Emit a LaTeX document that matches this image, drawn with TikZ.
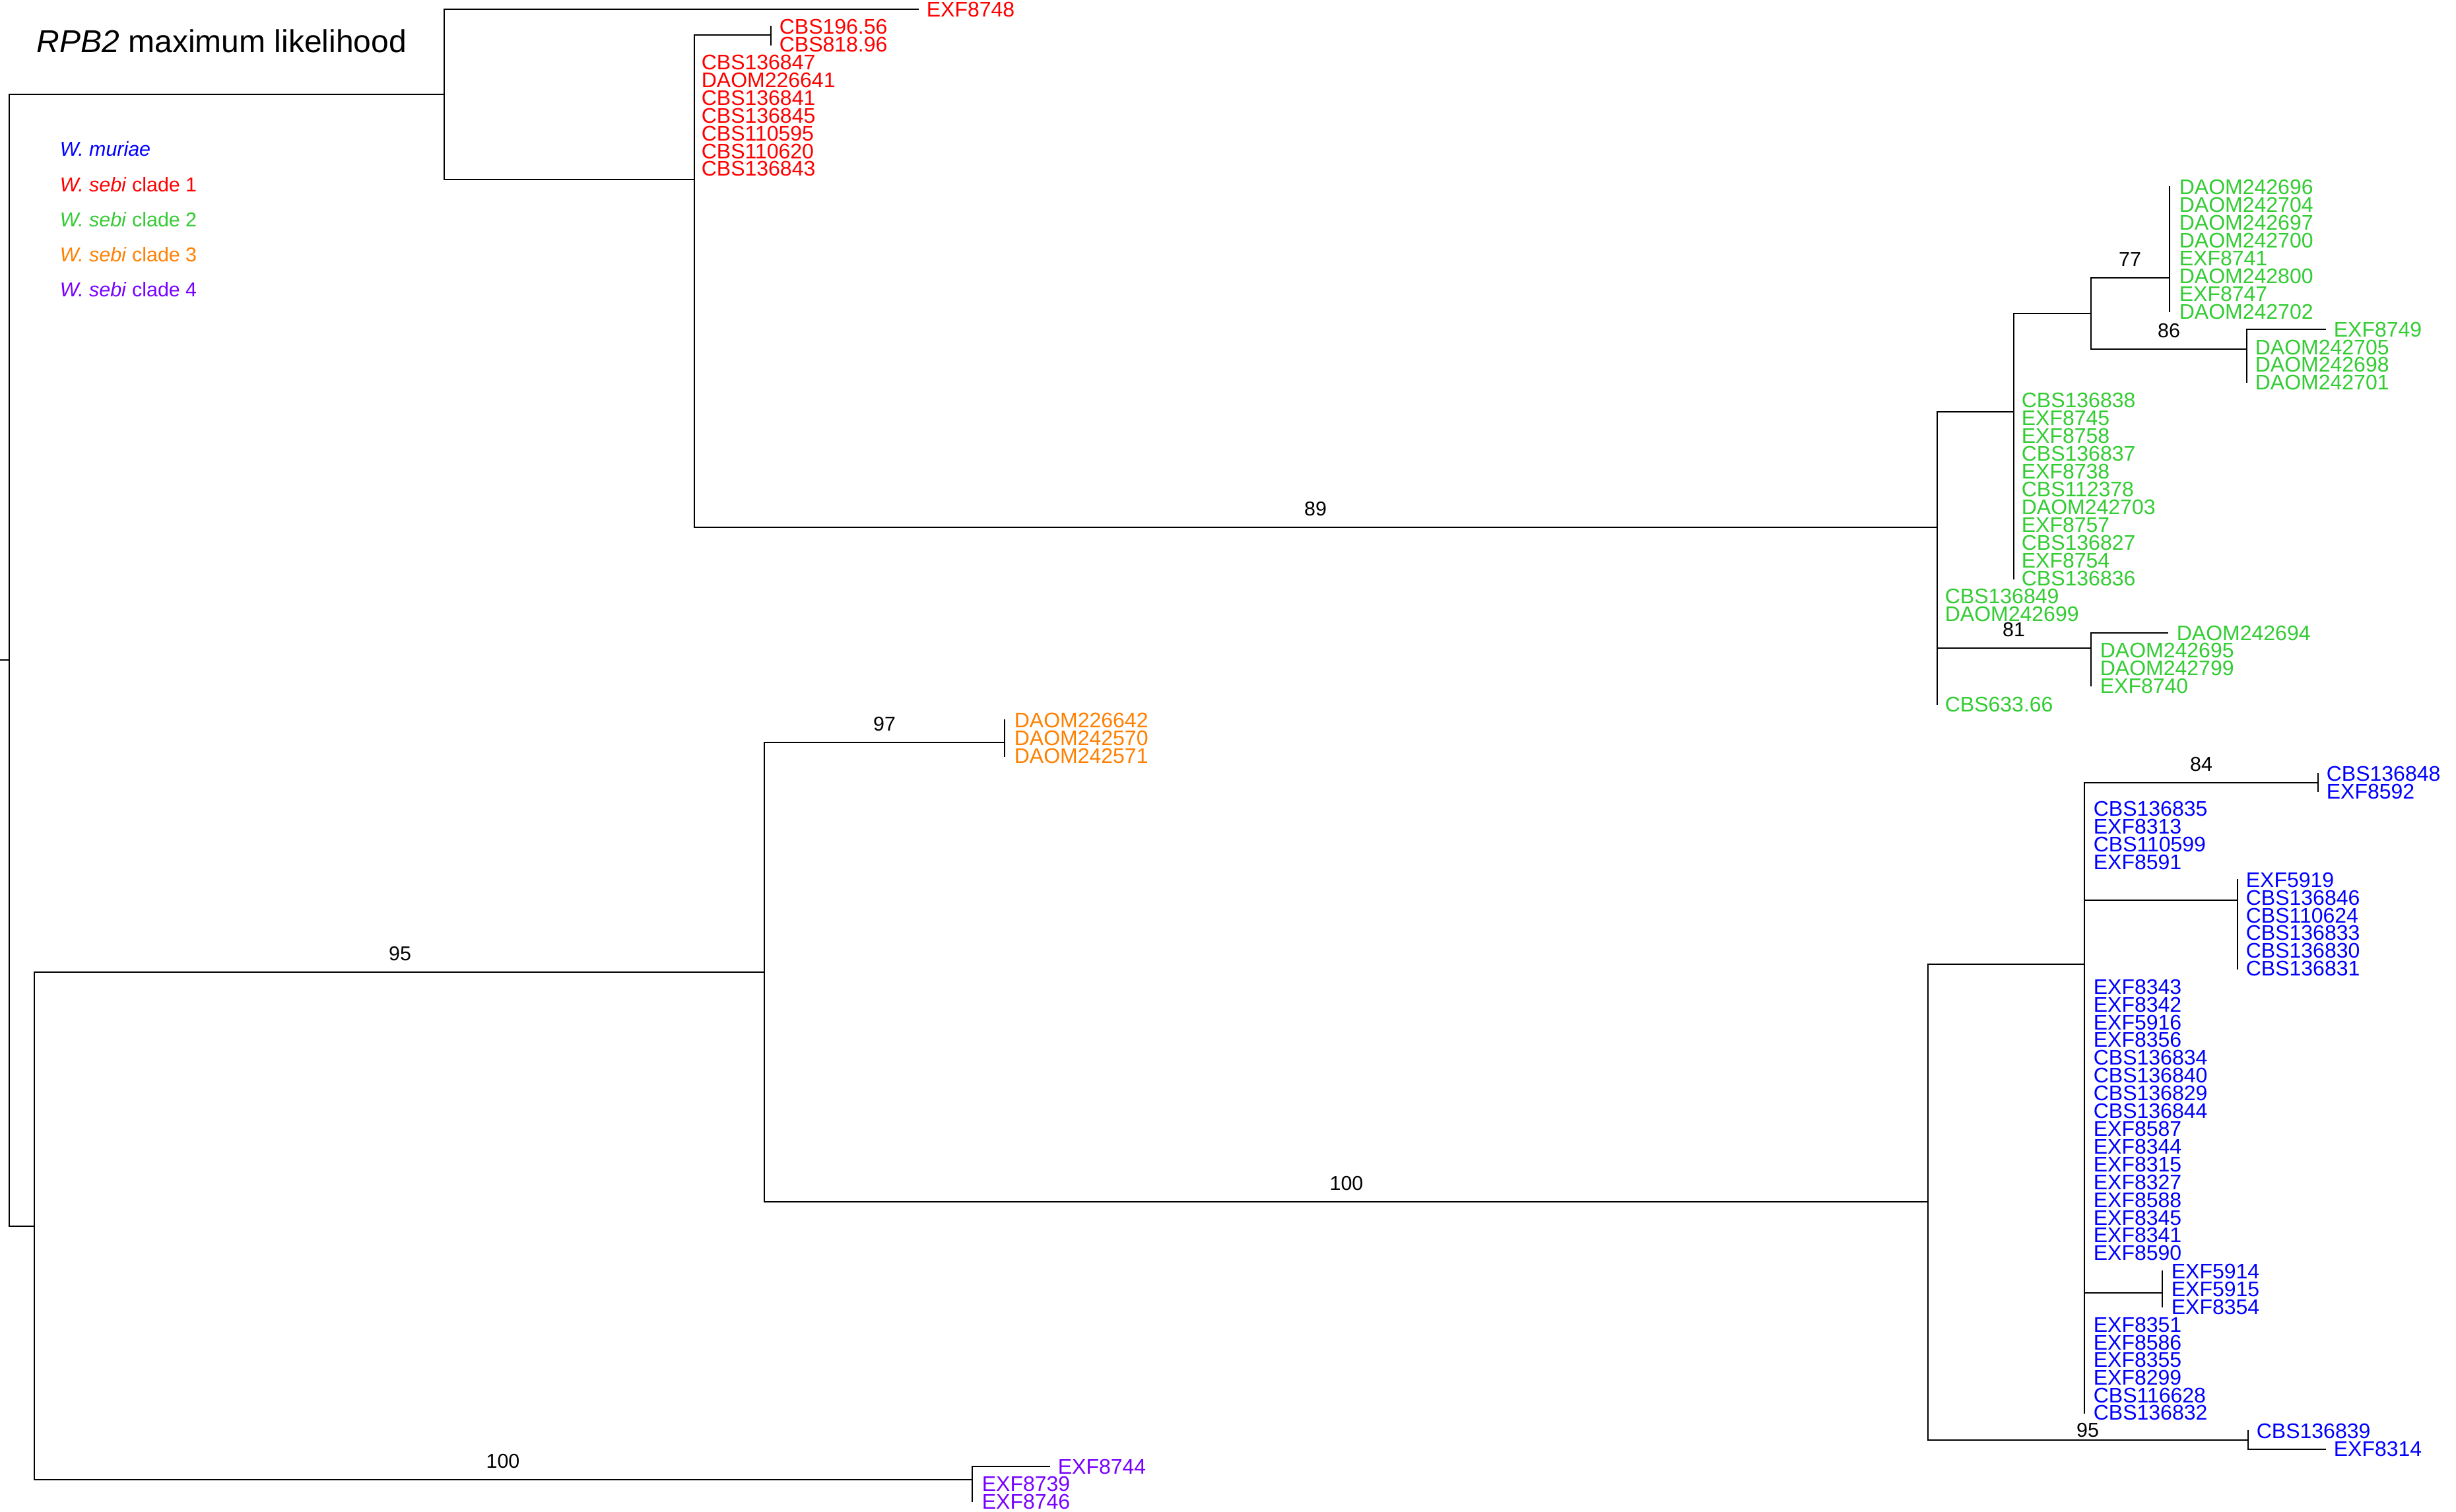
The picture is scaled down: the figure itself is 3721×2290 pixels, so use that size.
\documentclass[tikz,border=0pt]{standalone}
\usepackage{fontspec}
\setmainfont{Liberation Sans}
\definecolor{cRed}{RGB}{255,0,0}
\definecolor{cGreen}{RGB}{51,204,51}
\definecolor{cOrange}{RGB}{255,128,0}
\definecolor{cPurple}{RGB}{119,0,255}
\definecolor{cBlue}{RGB}{0,0,255}
% internal node: name, x, y, top, bottom
\newcommand\inode[5]{%
  \coordinate (#1) at (#2,#3);
  \coordinate (#1-t) at (#2,#4);
  \coordinate (#1-b) at (#2,#5);
  \draw[br] (#1-t) -- (#1-b);}
% leaf label: name, x, y(centre), text, colour
\newcommand\lbl[5]{\node[lf,text=#5] (#1) at (#2,{#3+11.3}) {#4};}
% support value: name, x, base y, text
\newcommand\sv[4]{\node[sup] (#1) at (#2,#3) {#4};}
\begin{document}
\begin{tikzpicture}[x=0.25pt,y=-0.25pt,
  br/.style={line width=0.7pt,line cap=rect,black},
  lf/.style={anchor=base west,inner sep=0pt,font=\fontsize{8}{9}\selectfont},
  sup/.style={anchor=base,inner sep=0pt,font=\fontsize{7.6}{9}\selectfont},
  leg/.style={anchor=base west,inner sep=0pt,font=\fontsize{7.6}{9}\selectfont}]
\fill[white] (0,0) rectangle (3721,2290);
\useasboundingbox (0,0) rectangle (3721,2290);

% title and legend
\node[anchor=base west,inner sep=0pt,font=\fontsize{12}{14}\selectfont] (title) at (55,80) {\textit{RPB2} maximum likelihood};
\node[leg,text=cBlue]   (legA) at (90,237) {\textit{W. muriae}};
\node[leg,text=cRed]    (legB) at (90,290) {\textit{W. sebi} clade 1};
\node[leg,text=cGreen]  (legC) at (90,343) {\textit{W. sebi} clade 2};
\node[leg,text=cOrange] (legD) at (90,396) {\textit{W. sebi} clade 3};
\node[leg,text=cPurple] (legE) at (90,449) {\textit{W. sebi} clade 4};

% ---------- internal nodes ----------
\coordinate (R0) at (0,1000);
\inode{R}{14}{1000}{143}{1858}
\inode{T}{673}{143}{14}{272}
\inode{N1}{1052}{272}{53}{799}
\inode{P}{1168}{53}{40.5}{67.5}
\inode{A}{2935}{799}{624}{1067}
\inode{B}{3051}{624}{475}{877}
\inode{C}{3168}{475}{421}{529}
\inode{D}{3287}{421}{283}{472}
\inode{E}{3404}{529}{499}{579}
\inode{F}{3168}{982}{959}{1039}
\inode{G}{52}{1858}{1473}{2242}
\inode{H}{1158}{1473}{1125}{1821}
\inode{O}{1522}{1125}{1091}{1146}
\inode{I}{2921}{1821}{1461}{2182}
\inode{J}{3158}{1461}{1186}{2141}
\inode{Ja}{3512}{1186}{1172}{1199}
\inode{Jb}{3390}{1364}{1333}{1468}
\inode{Jc}{3276}{1959}{1926}{1980}
\inode{K}{3406}{2182}{2168}{2196}
\inode{L}{1473}{2242}{2222}{2275}
% tips of single leaves
\coordinate (tEXF8748) at (1391,14);
\coordinate (tEXF8749) at (3523,499);
\coordinate (tDAOM242694) at (3284,959);
\coordinate (tEXF8314) at (3523,2196);
\coordinate (tEXF8744) at (1590,2222);

% ---------- branches ----------
\draw[br] (R0) -- (R);
\draw[br] (R) |- (T);
\draw[br] (R) |- (G);
\draw[br] (T) |- (tEXF8748);
\draw[br] (T) |- (N1);
\draw[br] (N1) |- (P);
\draw[br] (N1) |- (A);
\draw[br] (A) |- (B);
\draw[br] (B) |- (C);
\draw[br] (C) |- (D);
\draw[br] (C) |- (E);
\draw[br] (E) |- (tEXF8749);
\draw[br] (A) |- (F);
\draw[br] (F) |- (tDAOM242694);
\draw[br] (G) |- (H);
\draw[br] (G) |- (L);
\draw[br] (L) |- (tEXF8744);
\draw[br] (H) |- (O);
\draw[br] (H) |- (I);
\draw[br] (I) |- (J);
\draw[br] (I) |- (K);
\draw[br] (K) |- (tEXF8314);
\draw[br] (J) |- (Ja);
\draw[br] (J) |- (Jb);
\draw[br] (J) |- (Jc);

% ---------- support values ----------
\sv{s89}{1993}{781}{89}
\sv{s77}{3227}{403}{77}
\sv{s86}{3286}{511}{86}
\sv{s81}{3051}{964}{81}
\sv{s97}{1340}{1107}{97}
\sv{s95a}{606}{1455}{95}
\sv{s100a}{2040}{1803}{100}
\sv{s84}{3335}{1168}{84}
\sv{s95b}{3163}{2177}{95}
\sv{s100b}{762}{2224}{100}

% ---------- clade 1 (red) ----------
\lbl{EXF8748}{1403}{14}{EXF8748}{cRed}
\lbl{CBS19656}{1180}{40.5}{CBS196.56}{cRed}
\lbl{CBS81896}{1180}{67.5}{CBS818.96}{cRed}
\lbl{CBS136847}{1062}{94.7}{CBS136847}{cRed}
\lbl{DAOM226641}{1062}{121.5}{DAOM226641}{cRed}
\lbl{CBS136841}{1062}{148.3}{CBS136841}{cRed}
\lbl{CBS136845}{1062}{175.1}{CBS136845}{cRed}
\lbl{CBS110595}{1062}{201.9}{CBS110595}{cRed}
\lbl{CBS110620}{1062}{228.7}{CBS110620}{cRed}
\lbl{CBS136843}{1062}{255.5}{CBS136843}{cRed}

% ---------- clade 2 (green) ----------
\lbl{DAOM242696}{3301}{283}{DAOM242696}{cGreen}
\lbl{DAOM242704}{3301}{310}{DAOM242704}{cGreen}
\lbl{DAOM242697}{3301}{337}{DAOM242697}{cGreen}
\lbl{DAOM242700}{3301}{364}{DAOM242700}{cGreen}
\lbl{EXF8741}{3301}{391}{EXF8741}{cGreen}
\lbl{DAOM242800}{3301}{418}{DAOM242800}{cGreen}
\lbl{EXF8747}{3301}{445}{EXF8747}{cGreen}
\lbl{DAOM242702}{3301}{472}{DAOM242702}{cGreen}
\lbl{EXF8749}{3535}{499}{EXF8749}{cGreen}
\lbl{DAOM242705}{3416}{526}{DAOM242705}{cGreen}
\lbl{DAOM242698}{3416}{552.5}{DAOM242698}{cGreen}
\lbl{DAOM242701}{3416}{579}{DAOM242701}{cGreen}
\lbl{CBS136838}{3062}{606}{CBS136838}{cGreen}
\lbl{EXF8745}{3062}{633}{EXF8745}{cGreen}
\lbl{EXF8758}{3062}{660}{EXF8758}{cGreen}
\lbl{CBS136837}{3062}{687}{CBS136837}{cGreen}
\lbl{EXF8738}{3062}{714}{EXF8738}{cGreen}
\lbl{CBS112378}{3062}{741}{CBS112378}{cGreen}
\lbl{DAOM242703}{3062}{768}{DAOM242703}{cGreen}
\lbl{EXF8757}{3062}{795}{EXF8757}{cGreen}
\lbl{CBS136827}{3062}{822}{CBS136827}{cGreen}
\lbl{EXF8754}{3062}{849}{EXF8754}{cGreen}
\lbl{CBS136836}{3062}{876}{CBS136836}{cGreen}
\lbl{CBS136849}{2946}{903.5}{CBS136849}{cGreen}
\lbl{DAOM242699}{2946}{930.5}{DAOM242699}{cGreen}
\lbl{DAOM242694}{3297}{959}{DAOM242694}{cGreen}
\lbl{DAOM242695}{3181}{985}{DAOM242695}{cGreen}
\lbl{DAOM242799}{3181}{1012}{DAOM242799}{cGreen}
\lbl{EXF8740}{3181}{1039}{EXF8740}{cGreen}
\lbl{CBS63366}{2946}{1067}{CBS633.66}{cGreen}

% ---------- clade 3 (orange) ----------
\lbl{DAOM226642}{1536}{1091.5}{DAOM226642}{cOrange}
\lbl{DAOM242570}{1536}{1118.5}{DAOM242570}{cOrange}
\lbl{DAOM242571}{1536}{1145.5}{DAOM242571}{cOrange}

% ---------- W. muriae (blue) ----------
\lbl{CBS136848}{3524}{1172}{CBS136848}{cBlue}
\lbl{EXF8592}{3524}{1199}{EXF8592}{cBlue}
\lbl{CBS136835}{3171}{1225.5}{CBS136835}{cBlue}
\lbl{EXF8313}{3171}{1252.5}{EXF8313}{cBlue}
\lbl{CBS110599}{3171}{1279.5}{CBS110599}{cBlue}
\lbl{EXF8591}{3171}{1306}{EXF8591}{cBlue}
\lbl{EXF5919}{3402}{1333}{EXF5919}{cBlue}
\lbl{CBS136846}{3402}{1360}{CBS136846}{cBlue}
\lbl{CBS110624}{3402}{1387}{CBS110624}{cBlue}
\lbl{CBS136833}{3402}{1413.5}{CBS136833}{cBlue}
\lbl{CBS136830}{3402}{1440.5}{CBS136830}{cBlue}
\lbl{CBS136831}{3402}{1467.5}{CBS136831}{cBlue}
\lbl{EXF8343}{3171}{1495}{EXF8343}{cBlue}
\lbl{EXF8342}{3171}{1522}{EXF8342}{cBlue}
\lbl{EXF5916}{3171}{1549}{EXF5916}{cBlue}
\lbl{EXF8356}{3171}{1575.5}{EXF8356}{cBlue}
\lbl{CBS136834}{3171}{1602.5}{CBS136834}{cBlue}
\lbl{CBS136840}{3171}{1629.5}{CBS136840}{cBlue}
\lbl{CBS136829}{3171}{1656}{CBS136829}{cBlue}
\lbl{CBS136844}{3171}{1683}{CBS136844}{cBlue}
\lbl{EXF8587}{3171}{1710}{EXF8587}{cBlue}
\lbl{EXF8344}{3171}{1737}{EXF8344}{cBlue}
\lbl{EXF8315}{3171}{1764}{EXF8315}{cBlue}
\lbl{EXF8327}{3171}{1791}{EXF8327}{cBlue}
\lbl{EXF8588}{3171}{1818}{EXF8588}{cBlue}
\lbl{EXF8345}{3171}{1845}{EXF8345}{cBlue}
\lbl{EXF8341}{3171}{1871.5}{EXF8341}{cBlue}
\lbl{EXF8590}{3171}{1898}{EXF8590}{cBlue}
\lbl{EXF5914}{3289}{1926}{EXF5914}{cBlue}
\lbl{EXF5915}{3289}{1953}{EXF5915}{cBlue}
\lbl{EXF8354}{3289}{1980}{EXF8354}{cBlue}
\lbl{EXF8351}{3171}{2007}{EXF8351}{cBlue}
\lbl{EXF8586}{3171}{2034}{EXF8586}{cBlue}
\lbl{EXF8355}{3171}{2060.5}{EXF8355}{cBlue}
\lbl{EXF8299}{3171}{2087}{EXF8299}{cBlue}
\lbl{CBS116628}{3171}{2114}{CBS116628}{cBlue}
\lbl{CBS136832}{3171}{2140.5}{CBS136832}{cBlue}
\lbl{CBS136839}{3418}{2168}{CBS136839}{cBlue}
\lbl{EXF8314}{3535}{2195.5}{EXF8314}{cBlue}

% ---------- clade 4 (purple) ----------
\lbl{EXF8744}{1602}{2222}{EXF8744}{cPurple}
\lbl{EXF8739}{1487}{2248.5}{EXF8739}{cPurple}
\lbl{EXF8746}{1487}{2275}{EXF8746}{cPurple}
\end{tikzpicture}
\end{document}
